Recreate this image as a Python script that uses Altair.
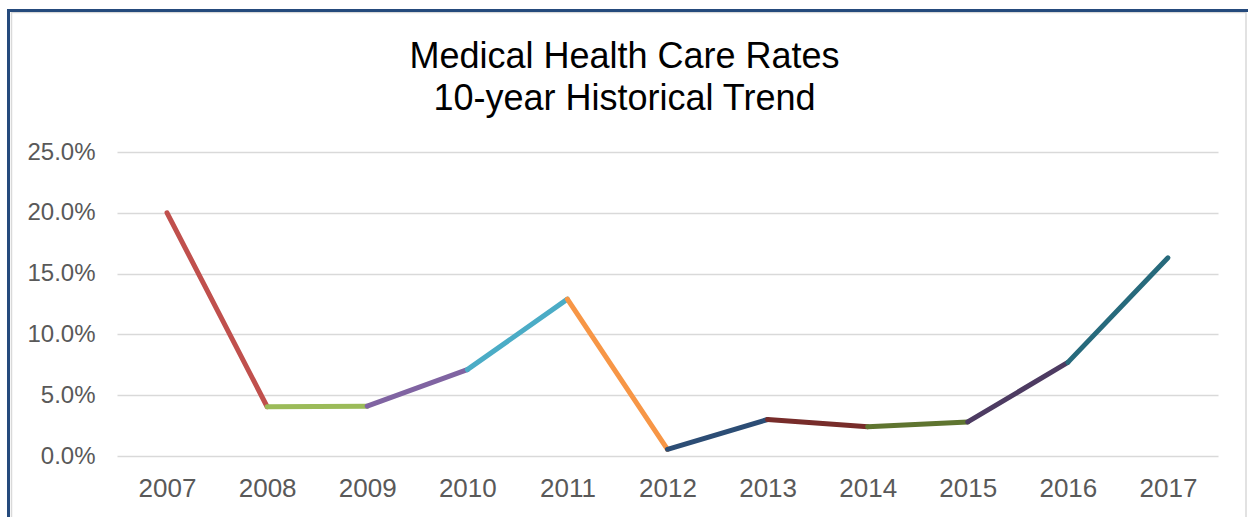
import altair as alt
import pandas as pd

# Annual medical health care rate increases
years = ["2007", "2008", "2009", "2010", "2011", "2012",
         "2013", "2014", "2015", "2016", "2017"]
rates = [0.200, 0.0405, 0.041, 0.071, 0.129, 0.0055,
         0.030, 0.024, 0.028, 0.077, 0.163]

# One colour per year-to-year segment
segment_colors = ["#C0504D", "#9BBB59", "#8064A2", "#4BACC6", "#F79646",
                  "#2C4D75", "#772C2A", "#5F7530", "#4D3B62", "#276A7C"]
segment_names = [f"{years[i]}-{years[i + 1]}" for i in range(len(years) - 1)]

y_ticks = [0.0, 0.05, 0.10, 0.15, 0.20, 0.25]
title_lines = ["Medical Health Care Rates", "10-year Historical Trend"]

FONT = "Liberation Sans"
LABEL_GREY = "#595959"
GRID_GREY = "#D9D9D9"

# Each segment is its own two-point line so it can carry its own colour
rows = []
for i, name in enumerate(segment_names):
    rows.append({"year": years[i], "rate": rates[i], "segment": name, "step": 0})
    rows.append({"year": years[i + 1], "rate": rates[i + 1], "segment": name, "step": 1})
segments = pd.DataFrame(rows)

lines = alt.Chart(segments).mark_line(
    strokeWidth=5, strokeCap="round", strokeJoin="round"
).encode(
    x=alt.X("year:O", sort=years, scale=alt.Scale(domain=years),
            axis=alt.Axis(title=None, labelAngle=0, domain=False, ticks=False,
                          grid=False, labelPadding=19, labelFontSize=26,
                          labelColor=LABEL_GREY, labelFont=FONT)),
    y=alt.Y("rate:Q", scale=alt.Scale(domain=[0, 0.25], nice=False),
            axis=alt.Axis(title=None, values=y_ticks, format=".1%",
                          domain=False, ticks=False, grid=True,
                          gridColor=GRID_GREY, gridWidth=1.3,
                          labelPadding=22, labelFontSize=24,
                          labelColor=LABEL_GREY, labelFont=FONT)),
    color=alt.Color("segment:N", scale=alt.Scale(domain=segment_names, range=segment_colors),
                    legend=None),
    order=alt.Order("step:Q"),
)

frame_data = pd.DataFrame({"k": [0]})

# Chart-area frame: light inner edge and dark blue outer border
inner_edge = alt.Chart(frame_data).mark_rect(
    fillOpacity=0, stroke=GRID_GREY, strokeWidth=1.5, clip=False
).encode(
    x=alt.value(-105.5), x2=alt.value(1129),
    y=alt.value(-139.5), y2=alt.value(420),
)
outer_border = alt.Chart(frame_data).mark_rect(
    fillOpacity=0, stroke="#254A7C", strokeWidth=3, clip=False
).encode(
    x=alt.value(-108.5), x2=alt.value(1160),
    y=alt.value(-141.5), y2=alt.value(430),
)

# The title sits inside the frame, so its offset reaches back below the frame's top edge
chart = alt.layer(inner_edge, outer_border, lines).properties(
    width=1101,
    height=304,
    autosize=alt.AutoSizeParams(type="none"),
    padding={"left": 117, "top": 152, "right": 30, "bottom": 61},
    background="white",
    title=alt.TitleParams(
        text=title_lines, font=FONT, fontSize=36, fontWeight="normal",
        color="#000000", anchor="middle", frame="group", baseline="bottom",
        offset=-145, lineHeight=42, dx=-43,
    ),
).configure_view(stroke=None)

chart.save("out.html", embed_options={"renderer": "svg", "actions": False})
